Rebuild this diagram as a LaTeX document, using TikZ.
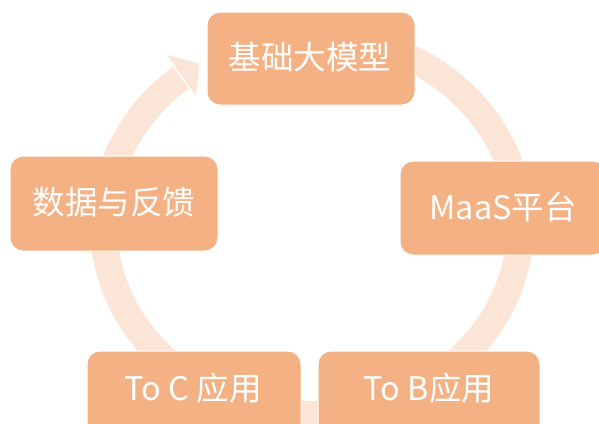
\documentclass[tikz,border=0pt]{standalone}
\usepackage{fontspec}
\setmainfont{Noto Sans CJK SC}
\definecolor{boxc}{HTML}{F4B183}
\definecolor{ringc}{HTML}{FBE5D6}
\tikzset{
  stagebox/.style={rounded corners=13pt, fill=boxc, draw=white, line width=1pt, inner sep=0pt},
  stagetxt/.style={text=white, font=\fontsize{32.5}{38}\selectfont, inner sep=0pt},
  ringline/.style={draw=ringc, line width=27pt},
}
\begin{document}
\begin{tikzpicture}[x=1pt,y=1pt]
\useasboundingbox (0,0) rectangle (599,-423);
\clip (0,0) rectangle (599,-423);
% ring (continuous cycle arrow)
\coordinate (ringc) at (312,-225);
\draw[ringline] (ringc) ++(110:208.5 and 189.5) arc[start angle=110, end angle=-231, x radius=208.5, y radius=189.5];
\coordinate (wingout) at (167,-55);
\coordinate (wingin) at (196,-96);
\coordinate (tip) at (199.5,-63.5);
\fill[ringc] (wingout) -- (tip) -- (wingin) -- cycle;
% boxes
\node[stagebox, minimum width=208pt, minimum height=93pt] (top) at (311,-58.5) {};
\node[stagetxt] at (310,-57) {基础大模型};
\node[stagebox, minimum width=206pt, minimum height=94pt] (maas) at (503,-208) {};
\node[stagetxt] at (503,-207.5) {MaaS平台};
\node[stagebox, minimum width=208pt, minimum height=95pt] (data) at (114,-203.5) {};
\node[stagetxt] at (114,-202) {数据与反馈};
\node[stagebox, minimum width=214pt, minimum height=94pt] (toc) at (194,-398) {};
\node[stagetxt] at (193,-388) {To C 应用};
\node[stagebox, minimum width=222pt, minimum height=94pt] (tob) at (429,-398) {};
\node[stagetxt] at (429,-388) {To B应用};
\end{tikzpicture}
\end{document}
